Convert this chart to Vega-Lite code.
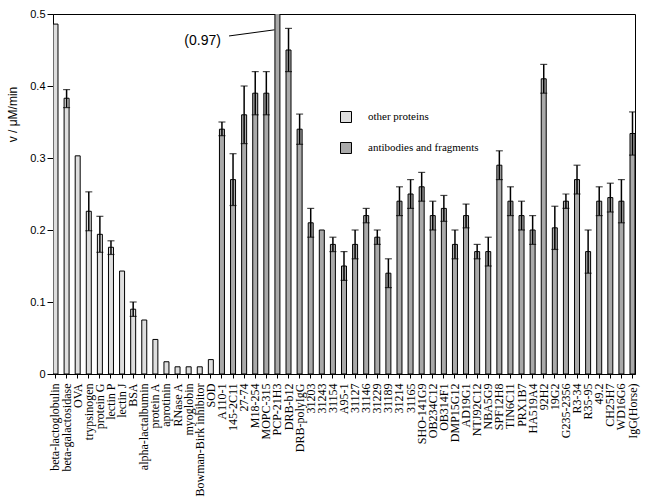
{
  "$schema": "https://vega.github.io/schema/vega-lite/v6.json",
  "width": 582,
  "height": 360,
  "autosize": {"type": "none"},
  "padding": {"left": 53, "top": 14, "right": 14, "bottom": 130},
  "background": "white",
  "config": {
    "view": {"stroke": "black", "strokeWidth": 1},
    "axis": {"domainColor": "black", "tickColor": "black", "labelColor": "black", "titleColor": "black", "grid": false, "labelFont": "Liberation Serif", "titleFont": "Liberation Sans", "labelFontSize": 12, "titleFontSize": 12, "titleFontWeight": "normal"}
  },
  "datasets": {
    "bars": [
      {"name": "beta-lactoglobulin", "group": "other proteins", "v": 0.486, "lo": null, "hi": null},
      {"name": "beta-galactosidase", "group": "other proteins", "v": 0.383, "lo": 0.370, "hi": 0.395},
      {"name": "OVA", "group": "other proteins", "v": 0.303, "lo": null, "hi": null},
      {"name": "trypsinogen", "group": "other proteins", "v": 0.226, "lo": 0.199, "hi": 0.253},
      {"name": "protein G", "group": "other proteins", "v": 0.194, "lo": 0.169, "hi": 0.219},
      {"name": "lectin P", "group": "other proteins", "v": 0.176, "lo": 0.166, "hi": 0.185},
      {"name": "lectin J", "group": "other proteins", "v": 0.143, "lo": null, "hi": null},
      {"name": "BSA", "group": "other proteins", "v": 0.090, "lo": 0.080, "hi": 0.100},
      {"name": "alpha-lactalbumin", "group": "other proteins", "v": 0.075, "lo": null, "hi": null},
      {"name": "protein A", "group": "other proteins", "v": 0.048, "lo": null, "hi": null},
      {"name": "aprotinin", "group": "other proteins", "v": 0.017, "lo": null, "hi": null},
      {"name": "RNase A", "group": "other proteins", "v": 0.010, "lo": null, "hi": null},
      {"name": "myoglobin", "group": "other proteins", "v": 0.010, "lo": null, "hi": null},
      {"name": "Bowman-Birk inhibitor", "group": "other proteins", "v": 0.010, "lo": null, "hi": null},
      {"name": "SOD", "group": "other proteins", "v": 0.020, "lo": null, "hi": null},
      {"name": "A110-1", "group": "antibodies and fragments", "v": 0.340, "lo": 0.331, "hi": 0.350},
      {"name": "145-2C11", "group": "antibodies and fragments", "v": 0.270, "lo": 0.234, "hi": 0.306},
      {"name": "27-74", "group": "antibodies and fragments", "v": 0.360, "lo": 0.320, "hi": 0.400},
      {"name": "M18-254", "group": "antibodies and fragments", "v": 0.390, "lo": 0.360, "hi": 0.420},
      {"name": "MOPC-315", "group": "antibodies and fragments", "v": 0.390, "lo": 0.360, "hi": 0.420},
      {"name": "PCP-21H3", "group": "antibodies and fragments", "v": 0.97, "lo": null, "hi": null},
      {"name": "DRB-b12", "group": "antibodies and fragments", "v": 0.450, "lo": 0.420, "hi": 0.480},
      {"name": "DRB-polyIgG", "group": "antibodies and fragments", "v": 0.340, "lo": 0.319, "hi": 0.361},
      {"name": "31203", "group": "antibodies and fragments", "v": 0.210, "lo": 0.190, "hi": 0.230},
      {"name": "31243", "group": "antibodies and fragments", "v": 0.200, "lo": null, "hi": null},
      {"name": "31154", "group": "antibodies and fragments", "v": 0.180, "lo": 0.170, "hi": 0.190},
      {"name": "A95-1", "group": "antibodies and fragments", "v": 0.150, "lo": 0.130, "hi": 0.170},
      {"name": "31127", "group": "antibodies and fragments", "v": 0.180, "lo": 0.160, "hi": 0.200},
      {"name": "31146", "group": "antibodies and fragments", "v": 0.220, "lo": 0.210, "hi": 0.230},
      {"name": "31229", "group": "antibodies and fragments", "v": 0.190, "lo": 0.180, "hi": 0.200},
      {"name": "31189", "group": "antibodies and fragments", "v": 0.140, "lo": 0.120, "hi": 0.160},
      {"name": "31214", "group": "antibodies and fragments", "v": 0.240, "lo": 0.220, "hi": 0.260},
      {"name": "31165", "group": "antibodies and fragments", "v": 0.250, "lo": 0.230, "hi": 0.270},
      {"name": "SHO-141G9", "group": "antibodies and fragments", "v": 0.260, "lo": 0.240, "hi": 0.280},
      {"name": "OB234C12", "group": "antibodies and fragments", "v": 0.220, "lo": 0.200, "hi": 0.240},
      {"name": "OB314F1", "group": "antibodies and fragments", "v": 0.230, "lo": 0.212, "hi": 0.248},
      {"name": "DMP15G12", "group": "antibodies and fragments", "v": 0.180, "lo": 0.160, "hi": 0.200},
      {"name": "AD19G1", "group": "antibodies and fragments", "v": 0.220, "lo": 0.203, "hi": 0.236},
      {"name": "NTJ92C12", "group": "antibodies and fragments", "v": 0.170, "lo": 0.160, "hi": 0.180},
      {"name": "NBA5G9", "group": "antibodies and fragments", "v": 0.170, "lo": 0.150, "hi": 0.190},
      {"name": "SPF12H8", "group": "antibodies and fragments", "v": 0.290, "lo": 0.270, "hi": 0.310},
      {"name": "TIN6C11", "group": "antibodies and fragments", "v": 0.240, "lo": 0.220, "hi": 0.260},
      {"name": "PRX1B7", "group": "antibodies and fragments", "v": 0.220, "lo": 0.200, "hi": 0.240},
      {"name": "HA519A4", "group": "antibodies and fragments", "v": 0.200, "lo": 0.180, "hi": 0.220},
      {"name": "92H2", "group": "antibodies and fragments", "v": 0.410, "lo": 0.390, "hi": 0.430},
      {"name": "19G2", "group": "antibodies and fragments", "v": 0.203, "lo": 0.173, "hi": 0.233},
      {"name": "G235-2356", "group": "antibodies and fragments", "v": 0.240, "lo": 0.230, "hi": 0.250},
      {"name": "R3-34", "group": "antibodies and fragments", "v": 0.270, "lo": 0.250, "hi": 0.290},
      {"name": "R35-95", "group": "antibodies and fragments", "v": 0.170, "lo": 0.140, "hi": 0.200},
      {"name": "49.2", "group": "antibodies and fragments", "v": 0.240, "lo": 0.220, "hi": 0.260},
      {"name": "CH25H7", "group": "antibodies and fragments", "v": 0.245, "lo": 0.225, "hi": 0.265},
      {"name": "WD16G6", "group": "antibodies and fragments", "v": 0.240, "lo": 0.210, "hi": 0.270},
      {"name": "IgG(Horse)", "group": "antibodies and fragments", "v": 0.334, "lo": 0.304, "hi": 0.364}
    ],
    "note": [
      {"label": "(0.97)", "tx": "A110-1", "ty": 0.463, "x1": "145-2C11", "x2": "PCP-21H3", "y1": 0.4695, "y2": 0.478}
    ]
  },
  "layer": [
    {
      "data": {"name": "bars"},
      "mark": {"type": "bar", "stroke": "black", "strokeWidth": 1, "clip": true},
      "encoding": {
        "x": {"field": "name", "type": "nominal", "sort": null,
              "scale": {"paddingInner": 0.55, "paddingOuter": 0,
                        "domain": ["beta-lactoglobulin", "beta-galactosidase", "OVA", "trypsinogen", "protein G", "lectin P", "lectin J", "BSA", "alpha-lactalbumin", "protein A", "aprotinin", "RNase A", "myoglobin", "Bowman-Birk inhibitor", "SOD", "A110-1", "145-2C11", "27-74", "M18-254", "MOPC-315", "PCP-21H3", "DRB-b12", "DRB-polyIgG", "31203", "31243", "31154", "A95-1", "31127", "31146", "31229", "31189", "31214", "31165", "SHO-141G9", "OB234C12", "OB314F1", "DMP15G12", "AD19G1", "NTJ92C12", "NBA5G9", "SPF12H8", "TIN6C11", "PRX1B7", "HA519A4", "92H2", "19G2", "G235-2356", "R3-34", "R35-95", "49.2", "CH25H7", "WD16G6", "IgG(Horse)"]},
              "axis": {"title": null, "labelAngle": -90, "tickSize": 4, "labelPadding": 5, "labelFontSize": 12}},
        "y": {"field": "v", "type": "quantitative",
              "scale": {"domain": [0, 0.5], "nice": false},
              "axis": {"title": "v / μM/min", "values": [0, 0.1, 0.2, 0.3, 0.4, 0.5], "format": "~g", "tickSize": 6, "labelPadding": 2, "labelFont": "Liberation Sans", "labelFontSize": 11, "titleAngle": -90, "titleX": -41, "titleY": 100, "titleAlign": "center", "titleBaseline": "middle"}},
        "fill": {"field": "group", "type": "nominal", "sort": null,
                 "scale": {"domain": ["other proteins", "antibodies and fragments"], "range": ["#dedede", "#a9a9a9"]},
                 "legend": {"title": null, "orient": "none", "legendX": 287, "legendY": 97, "padding": 0,
                            "symbolType": "square", "symbolSize": 121, "symbolStrokeColor": "black", "symbolStrokeWidth": 1,
                            "labelFont": "Liberation Serif", "labelFontSize": 11, "labelColor": "black", "labelOffset": 16, "rowPadding": 15}}
      }
    },
    {
      "data": {"name": "bars"},
      "transform": [{"filter": "datum.lo != null"}],
      "mark": {"type": "rule", "color": "black", "strokeWidth": 1.5},
      "encoding": {
        "x": {"field": "name", "type": "nominal", "sort": null},
        "y": {"field": "lo", "type": "quantitative"},
        "y2": {"field": "hi"}
      }
    },
    {
      "data": {"name": "bars"},
      "transform": [{"filter": "datum.lo != null"}],
      "mark": {"type": "tick", "color": "black", "size": 7, "thickness": 1.2},
      "encoding": {
        "x": {"field": "name", "type": "nominal", "sort": null},
        "y": {"field": "hi", "type": "quantitative"}
      }
    },
    {
      "data": {"name": "bars"},
      "transform": [{"filter": "datum.lo != null"}],
      "mark": {"type": "tick", "color": "black", "size": 7, "thickness": 1.2},
      "encoding": {
        "x": {"field": "name", "type": "nominal", "sort": null},
        "y": {"field": "lo", "type": "quantitative"}
      }
    },
    {
      "data": {"name": "note"},
      "mark": {"type": "rule", "color": "black", "strokeWidth": 1, "xOffset": -4, "x2Offset": -3},
      "encoding": {
        "x": {"field": "x1", "type": "nominal", "sort": null},
        "x2": {"field": "x2"},
        "y": {"field": "y1", "type": "quantitative"},
        "y2": {"field": "y2"}
      }
    },
    {
      "data": {"name": "note"},
      "mark": {"type": "text", "font": "Liberation Sans", "fontSize": 14, "align": "right", "baseline": "middle", "dx": -1, "color": "black"},
      "encoding": {
        "x": {"field": "tx", "type": "nominal", "sort": null},
        "y": {"field": "ty", "type": "quantitative"},
        "text": {"field": "label"}
      }
    }
  ]
}
